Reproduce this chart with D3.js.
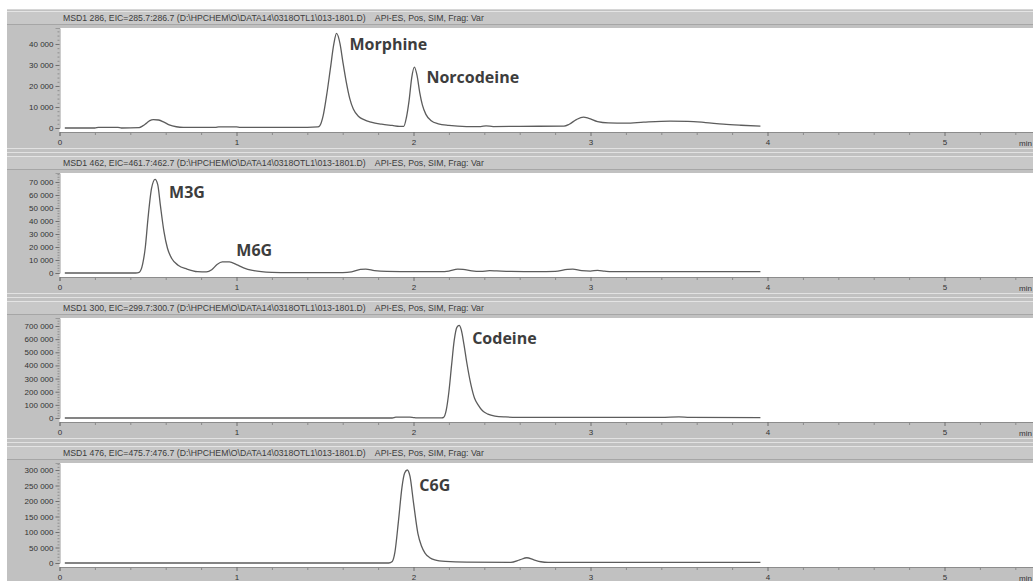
<!DOCTYPE html>
<html>
<head>
<meta charset="utf-8">
<script src="https://cdn.jsdelivr.net/npm/d3@7/dist/d3.min.js"></script>
<style>
  html, body { margin: 0; padding: 0; background: #ffffff; }
  .title-txt { font-family: 'Liberation Sans', Arial, sans-serif; font-size: 8.7px; fill: #3c3c3c; white-space: pre; }
  .axis-txt text { font-family: 'Liberation Sans', Arial, sans-serif; font-size: 8px; fill: #333333; }
  .peak-txt { font-family: 'Open Sans', sans-serif; font-weight: 700; font-size: 16px; fill: #3d3d3d; }
</style>
</head>
<body>
<div id="chart"></div>
<script>
// chromatogram traces (retention time in min, abundance)
const titles = [
  'MSD1 286, EIC=285.7:286.7 (D:\\HPCHEM\\O\\DATA14\\0318OTL1\\013-1801.D)    API-ES, Pos, SIM, Frag: Var',
  'MSD1 462, EIC=461.7:462.7 (D:\\HPCHEM\\O\\DATA14\\0318OTL1\\013-1801.D)    API-ES, Pos, SIM, Frag: Var',
  'MSD1 300, EIC=299.7:300.7 (D:\\HPCHEM\\O\\DATA14\\0318OTL1\\013-1801.D)    API-ES, Pos, SIM, Frag: Var',
  'MSD1 476, EIC=475.7:476.7 (D:\\HPCHEM\\O\\DATA14\\0318OTL1\\013-1801.D)    API-ES, Pos, SIM, Frag: Var'
];

const times286 = [0.03, 0.20, 0.22, 0.33, 0.35, 0.45, 0.47, 0.49, 0.51, 0.53, 0.56, 0.59, 0.62, 0.66, 0.70, 0.88, 0.90, 1.00, 1.02, 1.40,
  1.46, 1.47, 1.49, 1.51, 1.53, 1.55, 1.565, 1.585, 1.60, 1.62, 1.64, 1.66, 1.69, 1.72, 1.76, 1.82, 1.88, 1.92,
  1.945, 1.96, 1.975, 1.99, 2.005, 2.02, 2.035, 2.05, 2.07, 2.10, 2.14, 2.20, 2.30, 2.38, 2.41, 2.45, 2.60,
  2.85, 2.88, 2.92, 2.96, 2.99, 3.04, 3.10, 3.20, 3.30, 3.45, 3.55, 3.65, 3.75, 3.85, 3.96];
const values286 = [0, 0, 300, 300, 0, 200, 1000, 2200, 3500, 4000, 3800, 2800, 1500, 600, 300, 300, 500, 500, 300, 300,
  500, 1000, 6000, 16000, 28000, 40000, 45000, 40000, 32000, 22000, 14000, 9000, 5500, 4000, 2800, 1800, 1200, 800,
  800, 5000, 13000, 24000, 29000, 25000, 17000, 11000, 6500, 3500, 2000, 1200, 700, 700, 1000, 700, 800,
  900, 1800, 4000, 5200, 4600, 3000, 2400, 2300, 2800, 3300, 3200, 2600, 1800, 1300, 900];

const times462 = [0.03, 0.43, 0.45, 0.47, 0.485, 0.50, 0.52, 0.54, 0.555, 0.57, 0.59, 0.61, 0.635, 0.67, 0.72, 0.78, 0.83,
  0.86, 0.89, 0.92, 0.96, 1.00, 1.04, 1.09, 1.14, 1.20, 1.30, 1.60, 1.65, 1.70, 1.73, 1.78, 1.85, 2.00, 2.15, 2.20,
  2.25, 2.28, 2.33, 2.38, 2.43, 2.47, 2.55, 2.70, 2.80, 2.87, 2.90, 2.95, 3.00, 3.04, 3.08, 3.12, 3.50, 3.96];
const values462 = [0, 0, 500, 7000, 20000, 42000, 65000, 72000, 68000, 52000, 32000, 19000, 11000, 6000, 3000, 1000, 800,
  2500, 6500, 8500, 8500, 6500, 4000, 2000, 1000, 500, 300, 300, 800, 2800, 3000, 1800, 1200, 1000, 1000, 1500,
  3000, 2800, 1600, 1200, 1800, 1600, 1200, 1000, 1200, 2800, 3000, 1800, 1500, 2000, 1400, 1000, 1000, 1000];

const times300 = [0.03, 1.88, 1.90, 1.98, 2.00, 2.02, 2.16, 2.17, 2.185, 2.20, 2.215, 2.23, 2.245, 2.258, 2.27, 2.285,
  2.30, 2.325, 2.345, 2.365, 2.39, 2.42, 2.46, 2.52, 2.60, 2.70, 3.00, 3.40, 3.50, 3.56, 3.96];
const values300 = [0, 0, 6000, 6000, 3000, 1000, 1000, 5000, 60000, 200000, 400000, 590000, 690000, 705000, 670000, 560000,
  430000, 250000, 150000, 100000, 55000, 30000, 15000, 8000, 5000, 4000, 4000, 4000, 8000, 5000, 3000];

const times476 = [0.03, 1.86, 1.88, 1.895, 1.915, 1.935, 1.95, 1.965, 1.98, 2.00, 2.025, 2.045, 2.065, 2.09, 2.12, 2.18,
  2.30, 2.55, 2.60, 2.64, 2.68, 2.72, 2.76, 3.96];
const values476 = [0, 0, 5000, 35000, 135000, 245000, 290000, 300000, 280000, 195000, 95000, 55000, 32000, 18000, 10000, 5000,
  2500, 2000, 10000, 17000, 10000, 4000, 2000, 2000];

const yTicks286 = [0, 10000, 20000, 30000, 40000];
const yTicks462 = [0, 10000, 20000, 30000, 40000, 50000, 60000, 70000];
const yTicks300 = [0, 100000, 200000, 300000, 400000, 500000, 600000, 700000];
const yTicks476 = [0, 50000, 100000, 150000, 200000, 250000, 300000];
const xTicks = [0, 1, 2, 3, 4, 5];

const peakNames = [['Morphine', 'Norcodeine'], ['M3G', 'M6G'], ['Codeine'], ['C6G']];
const peakTimes = [[1.565, 2.005], [0.54, 0.92], [2.258], [1.965]];

const W = 1033, H = 581;
const left = 59.5;
const pxPerMin = 177;
const plotH = 104;

const fmt = d3.formatLocale({ decimal: '.', thousands: ' ', grouping: [3], currency: ['', ''] }).format(',');

const panels = [
  { title: titles[0], t: times286, v: values286, ticks: yTicks286, yMax: 47600, names: peakNames[0], peaks: peakTimes[0],
    offsets: [[13, 17], [12, 16]] },
  { title: titles[1], t: times462, v: values462, ticks: yTicks462, yMax: 76900, names: peakNames[1], peaks: peakTimes[1],
    offsets: [[14, 19], [14, -6]] },
  { title: titles[2], t: times300, v: values300, ticks: yTicks300, yMax: 760900, names: peakNames[2], peaks: peakTimes[2],
    offsets: [[13, 19]] },
  { title: titles[3], t: times476, v: values476, ticks: yTicks476, yMax: 322600, names: peakNames[3], peaks: peakTimes[3],
    offsets: [[12, 21]] }
];

const svg = d3.select('#chart').append('svg')
  .attr('width', W)
  .attr('height', H);

svg.append('rect').attr('width', W).attr('height', H).attr('fill', '#ffffff');
// grey window frame
svg.append('rect').attr('x', 7).attr('y', 9).attr('width', W - 7).attr('height', H - 9).attr('fill', '#c1c1c1');
svg.append('line').attr('x1', 7).attr('x2', W).attr('y1', 9.5).attr('y2', 9.5).attr('stroke', '#d6d6d6');

const x = d3.scaleLinear().domain([0, (W - left) / pxPerMin]).range([left, W]);

panels.forEach((p, i) => drawPanel(p, 28 + i * 145));

function drawPanel(p, top) {
  const g = svg.append('g');

  /* title bar */
  g.append('rect').attr('x', 7).attr('y', top - 16).attr('width', W - 7).attr('height', 13)
    .attr('fill', '#c8c8c8');
  g.append('line').attr('x1', 7).attr('x2', W).attr('y1', top - 16.5).attr('y2', top - 16.5).attr('stroke', '#e4e4e4');
  g.append('line').attr('x1', 7).attr('x2', W).attr('y1', top - 3.5).attr('y2', top - 3.5).attr('stroke', '#a6a6a6');
  g.append('text').attr('class', 'title-txt').attr('x', 63).attr('y', top - 7).text(p.title);

  /* plot area */
  g.append('rect').attr('x', left).attr('y', top).attr('width', W - left).attr('height', plotH).attr('fill', '#ffffff');

  const y = d3.scaleLinear().domain([0, p.yMax]).range([top + 100, top]);

  /* X axis */
  const xa = g.append('g').attr('class', 'axis-txt').attr('transform', 'translate(0,' + (top + plotH) + ')')
    .call(d3.axisBottom(x).tickValues(xTicks).tickSize(4).tickPadding(3).tickFormat(d3.format('d')));
  xa.select('.domain').attr('stroke', '#8c8c8c');
  xa.selectAll('.tick line').attr('stroke', '#6f6f6f');
  const minorX = d3.range(1, 28).map(d => d * 0.2).filter(d => Math.abs(d - Math.round(d)) > 0.01);
  const xm = g.append('g').attr('transform', 'translate(0,' + (top + plotH) + ')')
    .call(d3.axisBottom(x).tickValues(minorX).tickSize(3).tickFormat(''));
  xm.select('.domain').remove();
  xm.selectAll('.tick line').attr('stroke', '#8a8a8a');
  g.append('text').attr('x', 1019).attr('y', top + plotH + 14)
    .style('font-family', "'Liberation Sans', Arial, sans-serif").style('font-size', '8px').attr('fill', '#333')
    .text('min');

  /* Y axis */
  const step = p.ticks[1] - p.ticks[0];
  const minorY = d3.range(0, p.yMax, step / 5).filter(d => d % step !== 0);
  const ym = g.append('g').attr('transform', 'translate(' + left + ',0)')
    .call(d3.axisLeft(y).tickValues(minorY).tickSize(2).tickFormat(''));
  ym.select('.domain').remove();
  ym.selectAll('.tick line').attr('stroke', '#8e8e8e');
  const ya = g.append('g').attr('class', 'axis-txt').attr('transform', 'translate(' + left + ',0)')
    .call(d3.axisLeft(y).tickValues(p.ticks).tickSize(4).tickPadding(2).tickFormat(fmt));
  ya.select('.domain').attr('stroke', '#9a9a9a');
  ya.selectAll('.tick line').attr('stroke', '#6f6f6f');

  /* trace */
  const pts = p.t.map((t, k) => ({ t: t, v: p.v[k] }));
  g.append('path')
    .datum(pts)
    .attr('fill', 'none')
    .attr('stroke', '#5c5c5c')
    .attr('stroke-width', 1.3)
    .attr('d', d3.line()
      .x(d => x(d.t))
      .y(d => y(d.v))
      .curve(d3.curveMonotoneX));

  /* peak names */
  p.names.forEach((name, k) => {
    const idx = p.t.indexOf(p.peaks[k]);
    g.append('text')
      .attr('class', 'peak-txt')
      .attr('x', x(p.peaks[k]) + p.offsets[k][0])
      .attr('y', y(p.v[idx]) + p.offsets[k][1])
      .text(name);
  });

  /* separators under the panel */
  g.append('line').attr('x1', 7).attr('x2', W).attr('y1', top + 120.5).attr('y2', top + 120.5).attr('stroke', '#e2e2e2');
  g.append('line').attr('x1', 7).attr('x2', W).attr('y1', top + 124.5).attr('y2', top + 124.5).attr('stroke', '#e2e2e2');
}
</script>
</body>
</html>
